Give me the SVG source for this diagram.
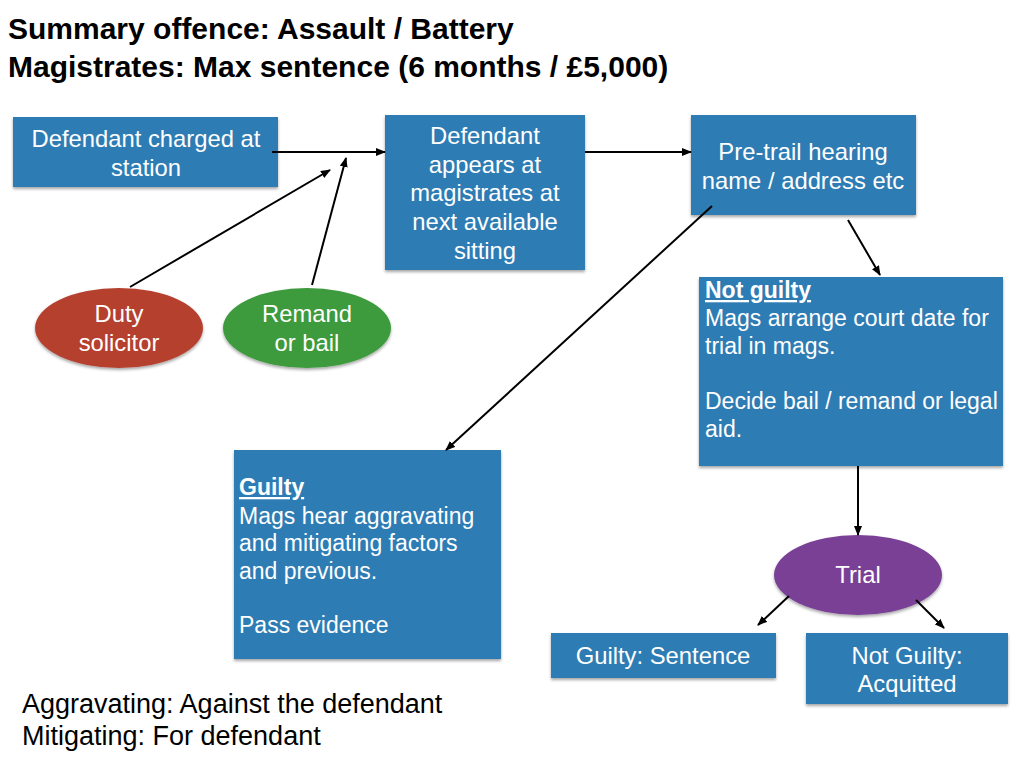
<svg xmlns="http://www.w3.org/2000/svg" width="1024" height="768" viewBox="0 0 1024 768">
<style>
.box{fill:#2f7cb4;filter:url(#sh)}
.t{font-family:"Liberation Sans",Arial,sans-serif;fill:#fff;font-size:23px}
.c{text-anchor:middle;font-size:23.8px}
.b{font-weight:bold;text-decoration:underline}
.h{font-family:"Liberation Sans",Arial,sans-serif;font-weight:bold;font-size:30px;fill:#000}
.n{font-family:"Liberation Sans",Arial,sans-serif;font-size:27px;fill:#000}
.ln{stroke:#000;stroke-width:2;fill:none;marker-end:url(#ah)}
</style>
<defs>
<filter id="sh" x="-10%" y="-10%" width="120%" height="130%"><feDropShadow dx="0" dy="2" stdDeviation="1.5" flood-color="#000" flood-opacity="0.35"/></filter>
<marker id="ah" markerWidth="10" markerHeight="8" refX="9" refY="4" orient="auto" markerUnits="userSpaceOnUse"><path d="M0,0 L10,4 L0,8 Z" fill="#000"/></marker>
</defs>
<rect width="1024" height="768" fill="#fff"/>
<text class="h" x="8" y="39">Summary offence: Assault / Battery</text>
<text class="h" x="8" y="77">Magistrates: Max sentence (6 months / £5,000)</text>

<g id="charged"><rect class="box" x="13" y="117" width="265" height="70"/>
<text class="t c" x="146" y="147">Defendant charged at</text><text class="t c" x="146" y="176">station</text></g>

<g id="appears"><rect class="box" x="385" y="115" width="200" height="155"/>
<text class="t c" x="485" y="144">Defendant</text><text class="t c" x="485" y="173">appears at</text><text class="t c" x="485" y="201">magistrates at</text><text class="t c" x="485" y="230">next available</text><text class="t c" x="485" y="259">sitting</text></g>

<g id="pretrial"><rect class="box" x="691" y="115" width="225" height="100"/>
<text class="t c" x="803" y="160">Pre-trail hearing</text><text class="t c" x="803" y="189">name / address etc</text></g>

<g id="duty"><ellipse cx="119" cy="328" rx="84" ry="40" fill="#b5412f" filter="url(#sh)"/>
<text class="t c" x="119" y="322">Duty</text><text class="t c" x="119" y="351">solicitor</text></g>

<g id="remand"><ellipse cx="307" cy="328" rx="84" ry="40" fill="#3d9a3d" filter="url(#sh)"/>
<text class="t c" x="307" y="322">Remand</text><text class="t c" x="307" y="351">or bail</text></g>

<g id="notguilty"><rect class="box" x="699" y="277" width="304" height="189"/>
<text class="t b" x="705" y="298">Not guilty</text>
<text class="t" x="705" y="326">Mags arrange court date for</text>
<text class="t" x="705" y="354">trial in mags.</text>
<text class="t" x="705" y="409">Decide bail / remand or legal</text>
<text class="t" x="705" y="437">aid.</text></g>

<g id="guilty"><rect class="box" x="234" y="450" width="267" height="209"/>
<text class="t b" x="239" y="495">Guilty</text>
<text class="t" x="239" y="524">Mags hear aggravating</text>
<text class="t" x="239" y="551">and mitigating factors</text>
<text class="t" x="239" y="579">and previous.</text>
<text class="t" x="239" y="633">Pass evidence</text></g>

<g id="trial"><ellipse cx="858" cy="575" rx="84" ry="40" fill="#7a3f96" filter="url(#sh)"/>
<text class="t c" x="858" y="583">Trial</text></g>

<g id="sentence"><rect class="box" x="551" y="633" width="225" height="45"/>
<text class="t c" x="663" y="664">Guilty: Sentence</text></g>

<g id="acquitted"><rect class="box" x="806" y="633" width="202" height="71"/>
<text class="t c" x="907" y="664">Not Guilty:</text><text class="t c" x="907" y="692">Acquitted</text></g>

<g id="connectors">
<line class="ln" x1="272" y1="152" x2="385" y2="152"/>
<line class="ln" x1="130" y1="287" x2="330" y2="170"/>
<line class="ln" x1="312" y1="285" x2="346" y2="158"/>
<line class="ln" x1="585" y1="152" x2="691" y2="152"/>
<line class="ln" x1="712" y1="206" x2="446" y2="450"/>
<line class="ln" x1="848" y1="220" x2="880" y2="275"/>
<line class="ln" x1="858" y1="466" x2="858" y2="535"/>
<line class="ln" x1="789" y1="596" x2="758" y2="625"/>
<line class="ln" x1="916" y1="600" x2="944" y2="628"/>
</g>

<text class="n" x="22" y="713">Aggravating: Against the defendant</text>
<text class="n" x="22" y="745">Mitigating: For defendant</text>
</svg>
